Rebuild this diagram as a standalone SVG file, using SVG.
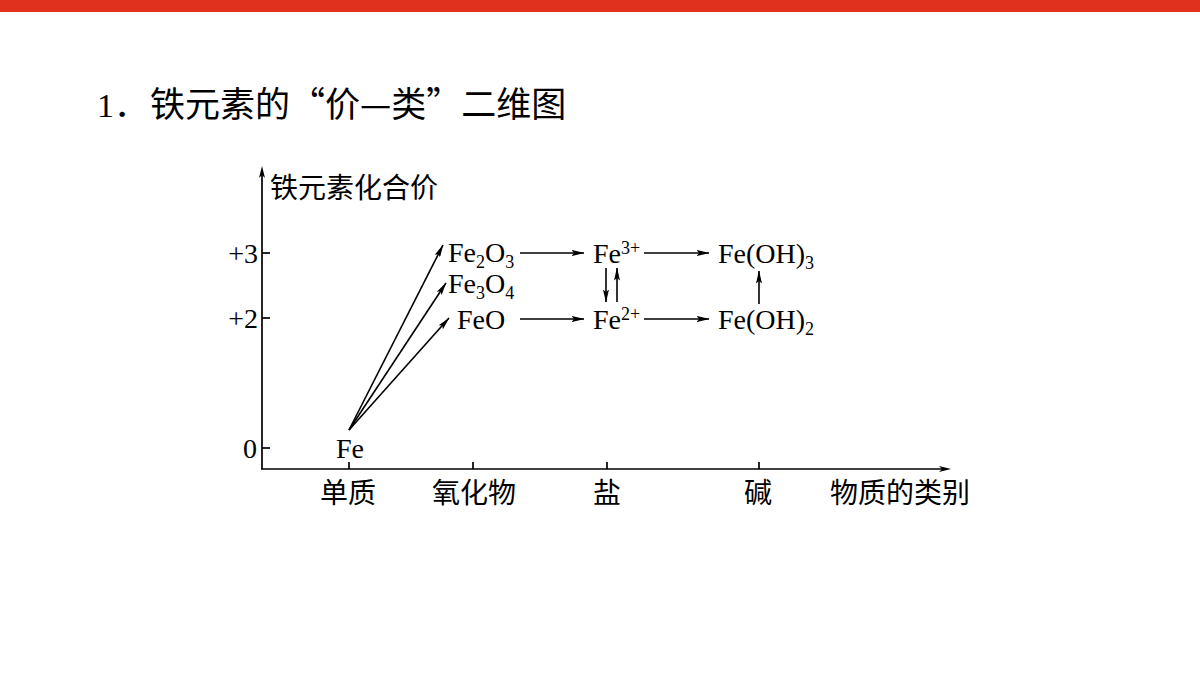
<svg xmlns="http://www.w3.org/2000/svg" width="1200" height="675" viewBox="0 0 1200 675">
<style>
.ln{stroke:#000;stroke-width:1.7;fill:none}
.ar{stroke:#000;stroke-width:1.6;fill:none;marker-end:url(#ah)}
.f{font-family:"Liberation Serif","Times New Roman",serif;font-size:28px;fill:#000}
.s{font-size:18px}
.sp{font-size:18px}
.cj{font-family:"Noto Sans CJK SC","Noto Sans CJK JP",sans-serif;font-size:28px;fill:#000}
</style>
<defs>
<marker id="ah" viewBox="0 0 13 6" refX="12.5" refY="3" markerWidth="13" markerHeight="6" markerUnits="userSpaceOnUse" orient="auto">
<path d="M0,0 L13,3 L0,6 L2.5,3 Z" fill="#000"/>
</marker>
</defs>
<rect x="0" y="0" width="1200" height="12" fill="#e0301e"/>
<g id="title">
<text y="117" font-family="Liberation Serif,'Noto Sans CJK SC',serif" font-size="34" fill="#000"><tspan x="97">1．</tspan><tspan x="150" font-family="'Noto Sans CJK SC',sans-serif" font-size="35">铁元素的“价—类”二维图</tspan></text>
</g>
<g id="axes">
<line class="ln" x1="262" y1="469" x2="262" y2="170"/>
<path d="M262,166 L265,178 L262,175 L259,178 Z" fill="#000"/>
<line class="ln" x1="261" y1="469" x2="946" y2="469"/>
<path d="M951,469 L939,466 L942,469 L939,472 Z" fill="#000"/>
<line class="ln" x1="262" y1="253" x2="270" y2="253"/>
<line class="ln" x1="262" y1="318" x2="270" y2="318"/>
<line class="ln" x1="262" y1="448" x2="270" y2="448"/>
<line class="ln" x1="349" y1="469" x2="349" y2="462"/>
<line class="ln" x1="473" y1="469" x2="473" y2="462"/>
<line class="ln" x1="607" y1="469" x2="607" y2="462"/>
<line class="ln" x1="759" y1="469" x2="759" y2="462"/>
<text class="cj" x="270" y="198" font-size="29">铁元素化合价</text>
<text class="f" x="258" y="263" text-anchor="end" font-size="27">+3</text>
<text class="f" x="258" y="328" text-anchor="end" font-size="27">+2</text>
<text class="f" x="257" y="458" text-anchor="end" font-size="27">0</text>
<text class="cj" x="348" y="503" text-anchor="middle" font-size="29">单质</text>
<text class="cj" x="474" y="503" text-anchor="middle" font-size="29">氧化物</text>
<text class="cj" x="607" y="503" text-anchor="middle" font-size="29">盐</text>
<text class="cj" x="758" y="503" text-anchor="middle" font-size="29">碱</text>
<text class="cj" x="830" y="503" font-size="29">物质的类别</text>
</g>
<g id="node-Fe"><text class="f" x="336" y="458">Fe</text></g>
<g id="node-Fe2O3"><text class="f" x="448" y="262">Fe<tspan class="s" dy="6">2</tspan><tspan dy="-6">O</tspan><tspan class="s" dy="6">3</tspan></text></g>
<g id="node-Fe3O4"><text class="f" x="448" y="293">Fe<tspan class="s" dy="6">3</tspan><tspan dy="-6">O</tspan><tspan class="s" dy="6">4</tspan></text></g>
<g id="node-FeO"><text class="f" x="457" y="329">FeO</text></g>
<g id="node-Fe3plus"><text class="f" x="593" y="263">Fe<tspan class="sp" dy="-9">3+</tspan></text></g>
<g id="node-Fe2plus"><text class="f" x="593" y="329">Fe<tspan class="sp" dy="-9">2+</tspan></text></g>
<g id="node-FeOH3"><text class="f" x="718" y="263">Fe(OH)<tspan class="s" dy="6">3</tspan></text></g>
<g id="node-FeOH2"><text class="f" x="718" y="329">Fe(OH)<tspan class="s" dy="6">2</tspan></text></g>
<g id="connectors">
<line class="ar" x1="349" y1="430" x2="443" y2="245"/>
<line class="ar" x1="349" y1="430" x2="446" y2="283"/>
<line class="ar" x1="349" y1="430" x2="449" y2="318"/>
<line class="ar" x1="520" y1="253" x2="584" y2="253"/>
<line class="ar" x1="644" y1="253" x2="709" y2="253"/>
<line class="ar" x1="520" y1="319" x2="584" y2="319"/>
<line class="ar" x1="644" y1="319" x2="709" y2="319"/>
<line class="ar" x1="606" y1="268" x2="606" y2="302"/>
<line class="ar" x1="617" y1="302" x2="617" y2="268"/>
<line class="ar" x1="759" y1="304" x2="759" y2="271"/>
</g>
</svg>
